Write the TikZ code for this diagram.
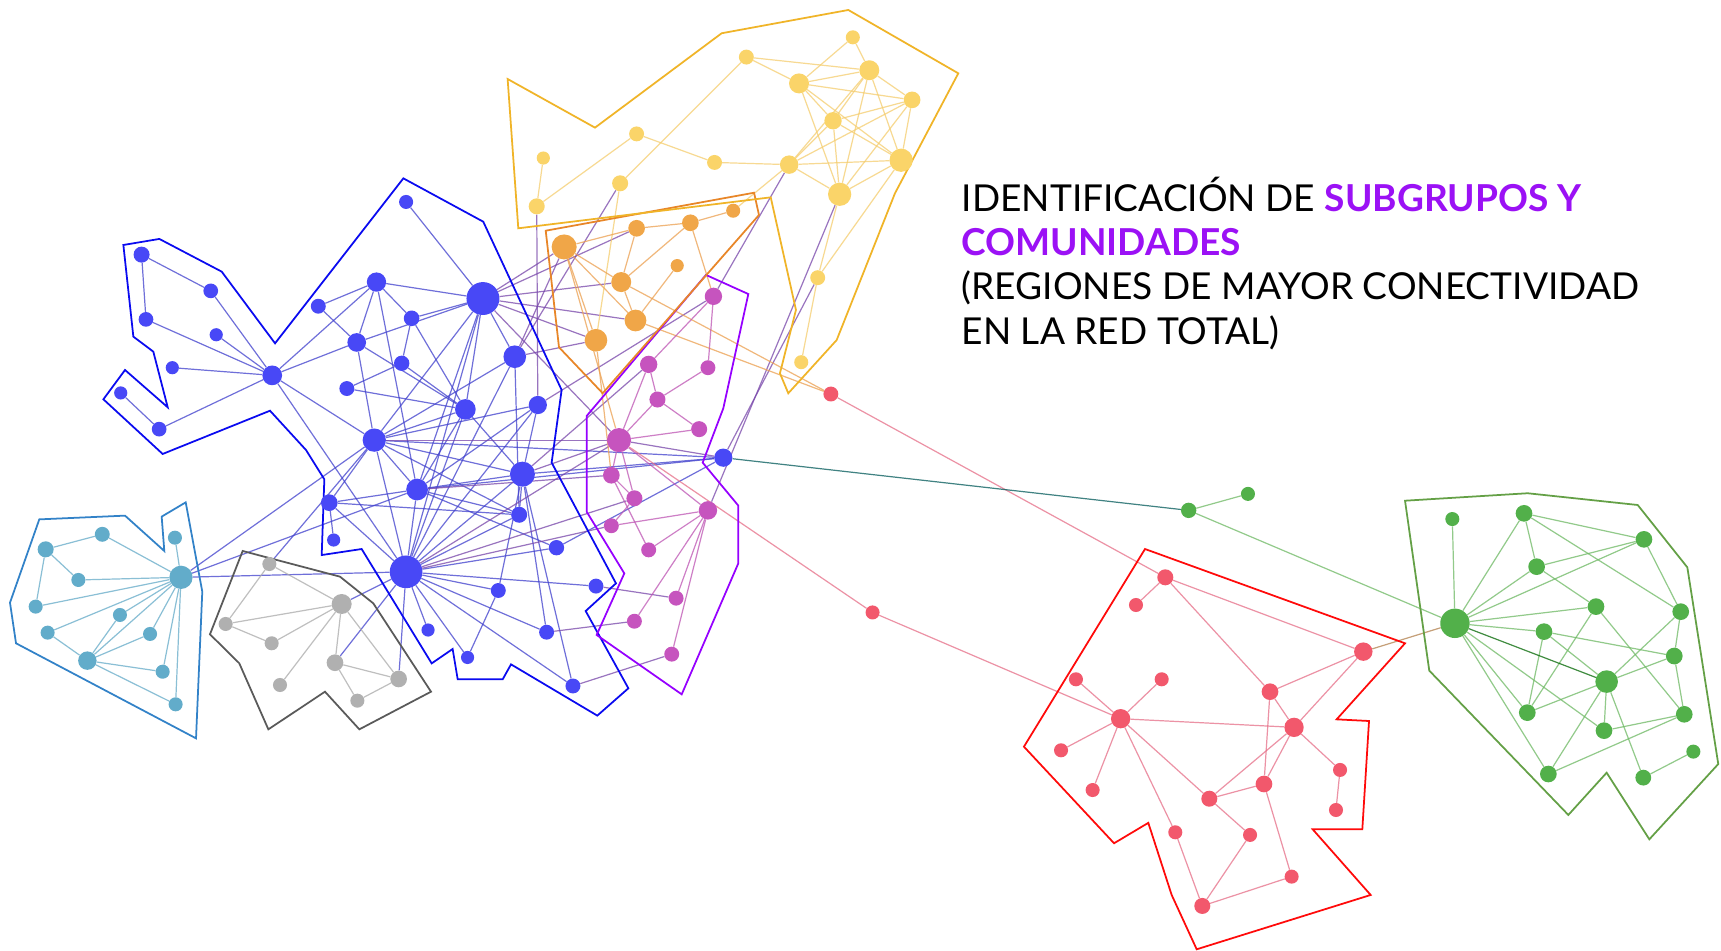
\documentclass[tikz,border=0pt]{standalone}
\usepackage{fontspec}
\setmainfont{Lato}
\usetikzlibrary{backgrounds}

% node fills
\definecolor{nblue}{RGB}{72,72,246}
\definecolor{norange}{RGB}{240,166,72}
\definecolor{nyellow}{RGB}{250,212,105}
\definecolor{npurple}{RGB}{198,84,190}
\definecolor{ncyan}{RGB}{98,172,202}
\definecolor{ngray}{RGB}{176,176,176}
\definecolor{nred}{RGB}{242,88,108}
\definecolor{ngreen}{RGB}{82,176,74}
% hull outlines
\definecolor{hblue}{RGB}{10,10,240}
\definecolor{horange}{RGB}{232,134,40}
\definecolor{hyellow}{RGB}{240,180,40}
\definecolor{hpurple}{RGB}{150,0,255}
\definecolor{hcyan}{RGB}{50,130,200}
\definecolor{hgray}{RGB}{90,90,90}
\definecolor{hred}{RGB}{255,10,10}
\definecolor{hgreen}{RGB}{100,160,70}
% edges
\definecolor{eblue}{RGB}{64,64,205}
\definecolor{emix}{RGB}{120,70,170}
\definecolor{eyellow}{RGB}{245,205,110}
\definecolor{eorange}{RGB}{236,160,80}
\definecolor{epurple}{RGB}{190,85,180}
\definecolor{ecyan}{RGB}{100,170,200}
\definecolor{egray}{RGB}{170,170,170}
\definecolor{ered}{RGB}{230,110,135}
\definecolor{egreen}{RGB}{110,185,100}
\definecolor{tpurple}{RGB}{155,17,245}

\begin{document}
\begin{tikzpicture}[x=1pt,y=-1pt,
  dot/.style={circle,inner sep=0pt,draw=none},
  edge/.style={line width=1.1pt,draw opacity=0.75},
  eb/.style={edge,eblue},
  ex/.style={edge,emix},
  ey/.style={edge,eyellow},
  eo/.style={edge,eorange},
  ep/.style={edge,epurple},
  ec/.style={edge,ecyan},
  eg/.style={edge,egray},
  er/.style={edge,ered},
  eG/.style={edge,egreen},
  hull/.style={line width=1.6pt,line join=miter},
  caption/.style={anchor=base west,inner sep=0pt,font=\fontsize{33.8}{40}\selectfont}
]
\useasboundingbox (0,0) rectangle (1568,866);

% ---------- vertices ----------
\foreach \n/\x/\y/\r in {b1/370/184/6.4, b2/129/232/7.3, b3/192/265/6.7, b4/133/291/6.7,
  b5/197/305/6, b6/157/335/6, b7/110/358/6, b8/145/391/6.7, b9/248/342/9,
  b10/343/257/8.8, b11/440/272/15, b12/290/279/6.8, b13/375/290/7.1, b14/325/312/8.5,
  b15/366/331/7, b16/469/325/10.3, b17/316/354/6.8, b18/424/373/9.4, b19/490/369/8.3,
  b20/341/401/10.6, b21/380/446/9.9, b22/476/432/11.4, b23/300/458/7.6, b24/473/469/7.3,
  b25/304/492/6, b26/370/521/14.9, b27/507/499/7, b28/543/534/6.8, b29/454/538/6.8,
  b30/390/574/6, b31/498/576/6.8, b32/426/599/6, b33/522/625/6.8, b34/659/417/8.3}
  \node[dot,fill=nblue,minimum size=\r*2pt] (\n) at (\x,\y) {};

\foreach \n/\x/\y/\r in {o1/514/225/11.4, o2/580/208/7.6, o3/629/203/7.6, o4/668/192/6.4,
  o5/617/242/6, o6/566/257/9.1, o7/579/292/9.9, o8/543/310/10.3}
  \node[dot,fill=norange,minimum size=\r*2pt] (\n) at (\x,\y) {};

\foreach \n/\x/\y/\r in {y1/777/34/6.4, y2/680/52/6.8, y3/728/76/9.1, y4/792/64/9.1,
  y5/831/91/7.6, y6/759/110/7.9, y7/580/122/6.8, y8/495/144/6, y9/651/148/6.8,
  y10/719/150/8.4, y11/821/146/10.6, y12/765/177/10.6, y13/565/167/7.3, y14/489/188/7.3,
  y15/745/253/6.8, y16/730/330/6.4}
  \node[dot,fill=nyellow,minimum size=\r*2pt] (\n) at (\x,\y) {};

\foreach \n/\x/\y/\r in {p1/650/270/7.9, p2/591/332/7.9, p3/645/335/6.8, p4/599/364/7.3,
  p5/637/391/7.3, p6/564/401/11, p7/557/433/7.6, p8/578/454/7.3, p9/645/465/8.4,
  p10/557/479/6.8, p11/591/501/6.8, p12/616/545/6.8, p13/578/566/6.8, p14/612/596/6.8}
  \node[dot,fill=npurple,minimum size=\r*2pt] (\n) at (\x,\y) {};

\foreach \n/\x/\y/\r in {c1/41.6/500.5/7.3, c2/93.2/486.8/6.8, c3/159.4/489.9/6.4,
  c4/71.4/528.4/6.4, c5/164.9/526/10.6, c6/32.5/552.7/6.4, c7/109.3/560.3/6.4,
  c8/43.4/576.4/6.4, c9/136.7/577.6/6.4, c10/79.6/601.9/8.4, c11/148.2/612/6.4,
  c12/160/641.7/6.4}
  \node[dot,fill=ncyan,minimum size=\r*2pt] (\n) at (\x,\y) {};

\foreach \n/\x/\y/\r in {g1/245.4/513.9/6.4, g2/311.3/550.3/9.1, g3/205.6/568.5/6.4,
  g4/247.5/586.1/6.4, g5/305.2/603.8/7.6, g6/363.2/618.6/7.6, g7/255.1/624.1/6.4,
  g8/325.6/638.4/6.4}
  \node[dot,fill=ngray,minimum size=\r*2pt] (\n) at (\x,\y) {};

\foreach \n/\x/\y/\r in {r0/757/359/6.8, rr/795/558/6.4, r1/1061.7/526/7.3, r2/1035/551.2/6.4,
  r3/1242.1/593.7/8.4, r4/980.3/618.9/6.4, r5/1058.4/618.9/6.4, r6/1157.1/630.2/7.6,
  r7/1021/654.8/8.8, r8/1179/662.7/8.8, r9/966.7/683.6/6.4, r10/1220.9/701.5/6.4,
  r11/995.5/719.8/6.4, r12/1151.6/714.3/7.6, r13/1101.8/727.7/7.3, r14/1217.2/738/6.4,
  r15/1070.8/758.3/6.4, r16/1138.9/760.7/6.4, r17/1176.8/798.7/6.4, r18/1095.4/825.4/7.3}
  \node[dot,fill=nred,minimum size=\r*2pt] (\n) at (\x,\y) {};

\foreach \n/\x/\y/\r in {ga/1083/465/7, gb/1137/450/6.4, G1/1323.2/472.9/6.4,
  G2/1388.5/467.7/7.6, G3/1497.8/491.4/7.6, G4/1400/516.3/7.6, G5/1325.6/567.9/13.4,
  G6/1454.1/552.7/7.6, G7/1531.3/557.3/7.6, G8/1406.7/575.5/7.6, G9/1525.4/597.7/7.6,
  G10/1463.8/621/10.3, G11/1391.5/649.3/7.6, G12/1534.5/650.8/7.6, G13/1461.4/665.7/7.6,
  G14/1542.8/684.8/6.4, G15/1410.7/705.2/7.6, G16/1497.2/708.5/7.2}
  \node[dot,fill=ngreen,minimum size=\r*2pt] (\n) at (\x,\y) {};

% ---------- connectors and community outlines ----------
\begin{scope}[on background layer]
\fill[white] (0,0) rectangle (1568,866);

\foreach \a/\b in {b1/b11, b2/b3, b2/b4, b3/b9, b4/b9, b5/b9, b6/b9, b7/b8, b8/b9,
  b9/b10, b9/b14, b9/b20, b9/b26, b12/b14, b12/b10, b10/b11, b10/b13, b10/b14, b10/b21,
  b14/b11, b14/b18, b14/b20, b13/b15, b13/b18, b15/b17, b15/b18, b17/b18, b11/b16,
  b11/b20, b11/b21, b11/b18, b11/b26, b11/b13, b16/b20, b16/b26, b16/b24, b18/b20,
  b18/b22, b18/b26, b18/b21, b19/b20, b19/b21, b19/b26, b19/b22, b20/b21, b20/b22,
  b20/b23, b20/b26, b20/b24, b21/b22, b21/b23, b21/b24, b21/b26, b21/b27, b22/b26,
  b22/b24, b22/b29, b22/b31, b22/b33, b23/b25, b23/b26, b23/b24, b26/b24, b26/b27,
  b26/b28, b26/b29, b26/b30, b26/b31, b26/b32, b26/b33, b29/b32, b34/b20, b34/b21,
  b34/b27, b34/b22, c5/b20, c5/b21, c5/b26, g2/b26, g5/b26, g6/b26, g1/b20}
  \draw[eb] (\a) -- (\b);

\foreach \a/\b in {b11/o1, b11/o2, b11/o6, b11/o7, b11/o8, b16/o1, b16/o8, b16/y13,
  b19/y14, b11/p6, b19/p1, b22/p2, b22/p6, b20/p6, b21/p7, b26/p6, b26/p8, b26/p10,
  b28/p12, b31/p13, b33/p14, b34/p6, b34/y15, p9/y12, y10/p1}
  \draw[ex] (\a) -- (\b);

\foreach \a/\b in {y1/y4, y1/y3, y2/y3, y2/y4, y3/y4, y3/y5, y4/y5, y4/y6, y4/y10, y4/y12,
  y4/y11, y3/y12, y3/y11, y3/y6, y5/y6, y5/y10, y5/y11, y5/y12, y6/y10, y6/y11, y6/y12,
  y10/y11, y10/y12, y11/y12, y10/y9, y9/y7, y7/y14, y14/y8, y13/y2, y12/y15, y11/y15,
  y15/y16, y10/o4, y13/o8}
  \draw[ey] (\a) -- (\b);

\foreach \a/\b in {o1/o2, o1/o6, o1/o7, o1/o8, o2/o3, o3/o4, o2/o6, o3/o6, o5/o7, o6/o7,
  o6/r0, o7/r0, o3/p1, o1/p6, o8/p7}
  \draw[eo] (\a) -- (\b);

\foreach \a/\b in {p1/p2, p1/p3, p3/p4, p2/p4, p2/p6, p4/p5, p4/p6, p5/p6, p6/p7, p6/p8,
  p6/p9, p7/p8, p7/p11, p8/p10, p9/p10, p9/p11, p9/p12, p9/p13, p9/p14}
  \draw[ep] (\a) -- (\b);

\foreach \a/\b in {c1/c2, c2/c5, c1/c4, c1/c6, c4/c5, c6/c5, c8/c5, c8/c10, c10/c7,
  c10/c5, c10/c9, c10/c11, c10/c12, c7/c5, c9/c5, c11/c5, c12/c5, c3/c5}
  \draw[ec] (\a) -- (\b);

\foreach \a/\b in {g1/g2, g1/g3, g3/g2, g3/g4, g4/g2, g7/g2, g5/g2, g6/g2, g5/g6, g5/g8, g8/g6}
  \draw[eg] (\a) -- (\b);

\foreach \a/\b in {r0/r1, p6/rr, rr/r7, r1/r2, r1/r3, r1/r6, r3/r6, r3/r8, r6/r8, r6/r12,
  r8/r12, r8/r13, r8/r10, r8/r7, r10/r14, r7/r4, r7/r5, r7/r9, r7/r11, r7/r13, r7/r15,
  r13/r12, r13/r16, r16/r18, r15/r18, r18/r17, r12/r17}
  \draw[er] (\a) -- (\b);

\draw[edge,draw=black!30!teal] (b34) -- (ga);
\draw[edge,draw=brown!80!gray] (r3) -- (G5);

\foreach \a/\b in {ga/gb, ga/G5, G1/G5, G2/G5, G4/G5, G3/G5, G5/G6, G5/G8, G5/G11,
  G5/G13, G5/G15, G2/G3, G2/G4, G2/G7, G4/G3, G4/G6, G6/G11, G6/G12, G8/G9, G8/G11,
  G8/G10, G7/G3, G7/G10, G7/G9, G9/G10, G9/G12, G10/G11, G10/G13, G10/G15, G10/G16,
  G13/G12, G15/G12, G14/G16}
  \draw[eG] (\a) -- (\b);
\draw[edge,draw=green!40!black] (G5) -- (G10);

% community outlines
\draw[hull,hblue] (367.5,162.5) -- (440.3,202) -- (511.7,355.3) -- (502.6,421.5)
  -- (561.2,531.5) -- (533.6,556.7) -- (572.5,627.1) -- (544.2,652) -- (465.6,605.3)
  -- (458,618.9) -- (417,618.9) -- (412.4,591.3) -- (393.3,604.4) -- (329.5,500.2)
  -- (293.1,505.7) -- (295.5,436.7) -- (278.8,410) -- (246,374.2) -- (148.2,413.6)
  -- (94.2,363.8) -- (113.9,337.1) -- (152.8,371.1) -- (139.7,320.4) -- (121.5,306.7)
  -- (112.4,223.2) -- (145.2,217.7) -- (202,247.5) -- (250.6,312.8) -- cycle;
\draw[hull,hpurple] (643.2,250.5) -- (681.8,267.9) -- (659,372) -- (640.2,421.5)
  -- (672.7,460.7) -- (672.7,513.2) -- (621.1,632.6) -- (543.6,578.5) -- (568.8,522.4)
  -- (534.5,466.2) -- (534.5,379) -- cycle;
\draw[hull,horange] (497.2,210.2) -- (687,175.6) -- (691.5,195.9) -- (549.1,358.3)
  -- (509.3,316.4) -- cycle;
\draw[hull,hyellow] (462.5,72) -- (542.1,116.3) -- (657.5,30.3) -- (772.9,9.1)
  -- (873.1,66.8) -- (815.4,176.1) -- (762.3,309.8) -- (718.2,358.3) -- (710.6,340.1)
  -- (725.2,282.4) -- (702.2,179.8) -- (472.2,208) -- cycle;
\draw[hull,hcyan] (35.8,473.2) -- (113.9,469.8) -- (149.7,502) -- (147.3,470.7)
  -- (169.2,457.7) -- (184.3,539) -- (178.6,672.7) -- (14.6,586.1) -- (9.1,549.1) -- cycle;
\draw[hull,hgray] (221.1,502) -- (309.8,525.4) -- (340.1,549.7) -- (392.7,630.2)
  -- (327.4,664.5) -- (296.1,630.2) -- (244.5,664.5) -- (218,604.3) -- (191.3,577.9) -- cycle;
\draw[hull,hred] (1043.2,500.2) -- (1280.1,586.1) -- (1217.8,655.4) -- (1247.3,656.9)
  -- (1241.2,755.6) -- (1196,755.6) -- (1248.8,815.4) -- (1090.3,864.9) -- (1067.5,815.4)
  -- (1046.2,749.7) -- (1015,768.3) -- (932.9,680.3) -- cycle;
\draw[hull,hgreen] (1280.1,456.2) -- (1391.8,449.4) -- (1492.1,460.1) -- (1537.3,516.9)
  -- (1565.5,696.1) -- (1502.7,764.7) -- (1463.8,704) -- (1428.9,742.5) -- (1302.2,611) -- cycle;
\end{scope}

% ---------- caption ----------
\node[caption] (t1) at (876,193) {IDENTIFICACIÓN DE \textcolor{tpurple}{\bfseries SUBGRUPOS Y}};
\node[caption] (t2) at (876,233) {\textcolor{tpurple}{\bfseries COMUNIDADES}};
\node[caption] (t3) at (876,273) {(REGIONES DE MAYOR CONECTIVIDAD};
\node[caption] (t4) at (876,314) {EN LA RED TOTAL)};
\end{tikzpicture}
\end{document}
